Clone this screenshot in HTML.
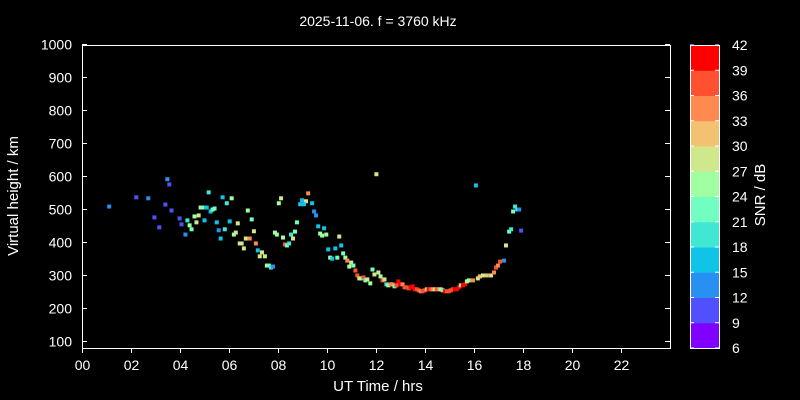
<!DOCTYPE html>
<html><head><meta charset="utf-8"><style>
html,body{margin:0;padding:0;background:#000;}
svg{display:block;font-family:"Liberation Sans",sans-serif;}
</style></head><body>
<svg id="chart" width="800" height="400" xmlns="http://www.w3.org/2000/svg">
<rect x="0" y="0" width="800" height="400" fill="#000"/>
<text x="378" y="26" fill="#fff" font-size="14" text-anchor="middle">2025-11-06. f = 3760 kHz</text>
<text x="378" y="391" fill="#fff" font-size="15" text-anchor="middle">UT Time / hrs</text>
<text x="0" y="0" fill="#fff" font-size="15" text-anchor="middle" transform="translate(18,196) rotate(-90)">Virtual height / km</text>
<text x="0" y="0" fill="#fff" font-size="15" text-anchor="middle" transform="translate(765,195) rotate(-90)">SNR / dB</text>
<g id="marks"></g>
<g id="axes"></g>
<g id="cbar"></g>
</svg>
<script>
const hours=[1.07,2.18,2.67,3.45,3.53,3.37,3.62,2.92,3.12,3.95,4.03,4.19,4.27,4.36,4.44,4.56,4.64,4.73,4.81,4.89,4.97,5.06,5.14,5.22,5.3,5.38,5.47,5.55,5.63,5.71,5.8,5.88,6.0,6.08,6.17,6.25,6.33,6.41,6.49,6.58,6.66,6.74,6.82,6.9,6.99,7.07,7.15,7.23,7.32,7.44,7.52,7.6,7.69,7.77,7.85,7.93,8.01,8.1,8.18,8.26,8.34,8.43,9.21,8.96,9.12,8.88,9.04,9.37,9.45,9.53,9.62,9.7,9.78,9.86,9.95,8.75,8.67,8.51,8.59,10.48,10.03,10.32,10.56,10.11,10.19,10.4,10.64,10.73,10.81,10.89,10.97,11.06,11.14,11.22,11.3,11.38,11.47,11.55,11.63,11.75,11.84,11.92,12.0,12.08,12.17,12.25,12.33,12.41,12.49,12.58,12.66,12.74,12.82,12.9,12.99,13.07,13.15,13.23,13.32,13.4,13.48,13.56,13.65,13.73,13.81,13.89,13.97,14.06,14.14,14.22,14.3,14.39,14.47,14.55,14.63,14.71,14.8,14.88,14.96,15.04,15.13,15.21,15.29,15.37,15.45,15.54,15.62,15.7,15.78,16.07,15.95,16.15,16.23,16.36,16.52,16.69,16.81,16.89,16.97,17.06,17.22,17.3,17.43,17.51,17.92,17.59,17.67,17.76,17.84];
const heights=[507,535,532,590,574,513,495,474,444,471,453,422,465,450,438,477,459,480,504,504,465,504,550,492,498,501,459,435,410,535,438,517,462,532,422,428,456,395,395,380,410,495,410,468,432,395,374,356,368,356,328,328,322,325,428,422,517,532,413,392,389,395,547,526,523,514,514,517,492,480,447,425,419,441,422,459,431,422,410,416,377,380,389,352,349,352,365,352,343,325,337,328,313,298,289,289,292,283,286,274,316,301,605,307,295,283,286,271,268,271,271,265,268,280,271,271,262,262,259,262,265,256,256,253,250,250,253,256,256,256,256,256,256,256,256,253,250,250,250,253,256,256,256,262,268,268,271,280,283,571,283,289,295,298,298,298,307,322,328,340,343,389,431,438,434,492,507,498,498];
const snr=[12,9,12,12,9,9,9,9,9,9,9,12,18,24,21,24,27,27,27,21,15,15,18,15,21,21,15,12,15,15,18,18,15,24,24,27,27,27,27,27,27,24,33,21,27,33,15,27,27,27,27,21,18,12,24,24,24,27,24,36,21,18,33,15,27,15,15,15,12,12,15,24,24,15,24,21,21,18,27,27,15,15,15,24,15,21,21,24,33,24,27,21,36,36,27,24,36,21,27,24,21,27,27,27,24,36,27,18,24,33,33,21,36,39,42,33,36,36,36,39,42,39,36,36,33,36,36,30,42,36,33,27,36,33,27,21,39,36,36,36,36,39,42,42,27,39,42,27,24,15,33,27,30,27,30,27,33,36,33,36,12,27,21,18,9,21,18,18,12];
const xTicks=["00","02","04","06","08","10","12","14","16","18","20","22"];
const yTicks=[100,200,300,400,500,600,700,800,900,1000];
const cbLabels=[6,9,12,15,18,21,24,27,30,33,36,39,42];
const cbColors=["#8000ff","#5050ff","#2890f0","#10c4e8","#40e8d4","#70ffc0","#a0ffa0","#d0e88c","#f2c270","#ff8a50","#ff5030","#ff0000"];
const NS="http://www.w3.org/2000/svg";
const X0=82,X1=670,Y0=45,Y1=348;
function xs(h){return 83+h*24.45;}
function ys(v){return 44+(1000-v)*0.3297;}
function col(s){let i=Math.floor((s-6)/3);if(i<0)i=0;if(i>11)i=11;return cbColors[i];}
function mk(tag,at,parent){const e=document.createElementNS(NS,tag);for(const k in at)e.setAttribute(k,at[k]);parent.appendChild(e);return e;}
const marks=document.getElementById('marks');
for(let i=0;i<hours.length;i++){
  const r=mk('rect',{x:xs(hours[i])-2,y:ys(heights[i])-2,width:4,height:4,fill:col(snr[i])},marks);
  
  
}
const axes=document.getElementById('axes');
const frame=mk('rect',{x:X0+0.5,y:Y0+0.5,width:X1-X0,height:Y1-Y0,fill:'none',stroke:'#fff','stroke-width':1},axes);


xTicks.forEach((t,i)=>{
  const x=Math.round(82+i*2*24.5)+0.5;
  mk('line',{x1:x,y1:Y1,x2:x,y2:Y1+5,stroke:'#fff'},axes);
  const tx=mk('text',{x:x,y:370,fill:'#fff','font-size':14,'text-anchor':'middle'},axes);
  tx.textContent=t;
  
  
});
yTicks.forEach(v=>{
  const y=Math.round(ys(v))+0.5;
  mk('line',{x1:X0,y1:y,x2:X0+5,y2:y,stroke:'#fff'},axes);
  mk('line',{x1:X1,y1:y,x2:X1-5,y2:y,stroke:'#fff'},axes);
  const tx=mk('text',{x:72,y:y+5,fill:'#fff','font-size':14,'text-anchor':'end'},axes);
  tx.textContent=v;
  
  
});
const cb=document.getElementById('cbar');
const CX=690,CW=29,CT=45,CB=348,bh=(CB-CT)/12;
cbColors.forEach((c,i)=>{
  const r=mk('rect',{x:CX,y:CB-(i+1)*bh,width:CW,height:bh+0.5,fill:c},cb);
  
  
});
mk('rect',{x:CX+0.5,y:CT+0.5,width:CW,height:CB-CT,fill:'none',stroke:'#fff'},cb);
cbLabels.forEach((v,i)=>{
  const y=CB-i*bh;
  mk('line',{x1:CX+CW-4,y1:y,x2:CX+CW,y2:y,stroke:'#fff'},cb);
  mk('line',{x1:CX,y1:y,x2:CX+4,y2:y,stroke:'#fff'},cb);
  const tx=mk('text',{x:732,y:y+5,fill:'#fff','font-size':14,'text-anchor':'start'},cb);
  tx.textContent=v;
  
  
});
</script>
</body></html>
